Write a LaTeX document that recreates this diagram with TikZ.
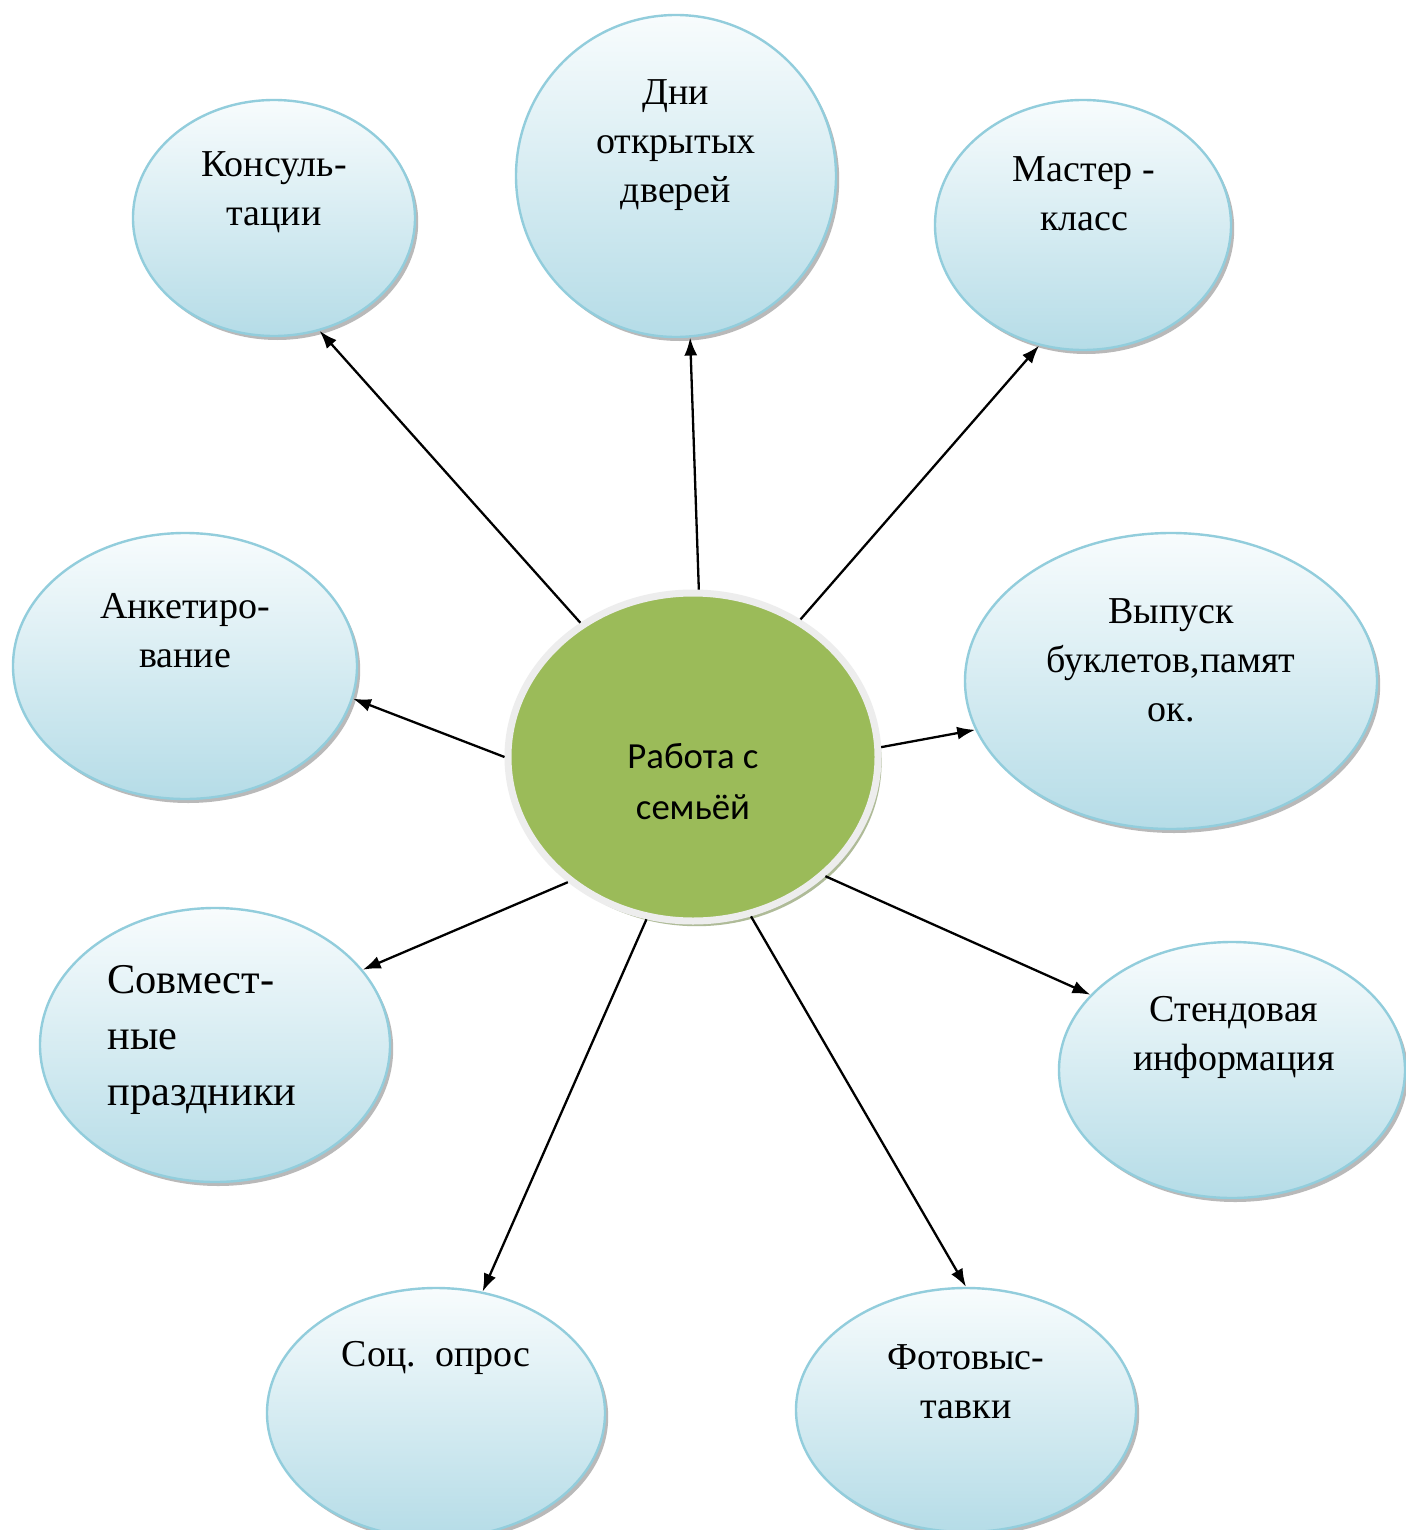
\documentclass[tikz,border=0pt]{standalone}
\usepackage{fontspec}
\setmainfont{Liberation Serif}
\newfontfamily\calfont{Carlito}
\usetikzlibrary{shapes.geometric,arrows.meta}
\definecolor{bubtop}{HTML}{F8FCFD}
\definecolor{bubbot}{HTML}{B5DCE7}
\definecolor{bubline}{HTML}{92CDDC}
\definecolor{grn}{HTML}{9BBB59}
\definecolor{ring}{HTML}{EDEDED}
\tikzset{
  bub/.style={ellipse, draw=bubline, line width=1.2pt, top color=bubtop, bottom color=bubbot,
    inner sep=0pt, preaction={fill=gray!55, transform canvas={shift={(1.6pt,-2pt)}}}},
  txt/.style={font=\fontsize{19}{24.5}\selectfont, align=center, inner sep=0pt},
  arr/.style={line width=1.15pt, -{Latex[length=9pt,width=6.5pt]}}
}
\begin{document}
\begin{tikzpicture}[x=0.5pt,y=-0.5pt]
\useasboundingbox (0,0) rectangle (1405,1530);
\fill[white] (0,0) rectangle (1405,1530);
% bubbles
\node[bub, minimum width=141pt, minimum height=118pt] (kons) at (274,218) {};
\node[bub, minimum width=160pt, minimum height=161pt] (dni) at (676,176) {};
\node[bub, minimum width=148pt, minimum height=125pt] (mast) at (1083,225) {};
\node[bub, minimum width=172pt, minimum height=133pt] (ank) at (185,666) {};
\node[bub, minimum width=206pt, minimum height=148pt] (vyp) at (1171,681) {};
\node[bub, minimum width=175pt, minimum height=137pt] (sovm) at (215,1045) {};
\node[bub, minimum width=173pt, minimum height=128pt] (stend) at (1232,1070) {};
\node[bub, minimum width=169pt, minimum height=125pt] (soc) at (436,1413) {};
\node[bub, minimum width=170pt, minimum height=122pt] (foto) at (966,1410) {};
% centre
\node[ellipse, fill=grn, draw=ring, line width=3.5pt, minimum width=185pt, minimum height=164pt,
  preaction={fill=gray!50!grn!70, transform canvas={shift={(1.8pt,-2.6pt)}}}] (c) at (693,757) {};
% texts
\node[txt] (t1) at (274,192) {Консуль-\\тации};
\node[txt] (t2) at (676,145) {Дни\\открытых\\дверей};
\node[txt] (t3) at (1084,194) {Мастер -\\класс};
\node[txt] (t4) at (185,631) {Анкетиро-\\вание};
\node[txt] (t5) at (1171,660) {Выпуск\\буклетов,памят\\ок.};
\node[txt, font=\fontsize{21.2}{28}\selectfont, align=left, anchor=west] (t6) at (107,1040) {Совмест-\\ные\\праздники};
\node[txt] (t7) at (1234,1037) {Стендовая\\информация};
\node[txt] (t8) at (436,1358) {Соц.\ \ опрос};
\node[txt] (t9) at (966,1382) {Фотовыс-\\тавки};
\node[txt, font=\calfont\fontsize{18.4}{25.5}\selectfont] (tc) at (693,782) {Работа с\\семьёй};
% arrows
\draw[arr] (c.130.8) -- (kons.292.7);
\draw[arr] (c.88.2) -- (dni.275.8);
\draw[arr] (c.52.2) -- (mast.250.7);
\draw[arr] (c.180.3) -- (ank.349.8);
\draw[arr] (c.3.7) -- (vyp.194.5);
\draw[arr] (c.225) -- (sovm.27.3);
\draw[arr] (c.318.4) -- (stend.152.8);
\draw[arr] (c.254.7) -- (soc.69.8);
\draw[arr] (c.290.3) -- (foto.90);
\end{tikzpicture}
\end{document}
